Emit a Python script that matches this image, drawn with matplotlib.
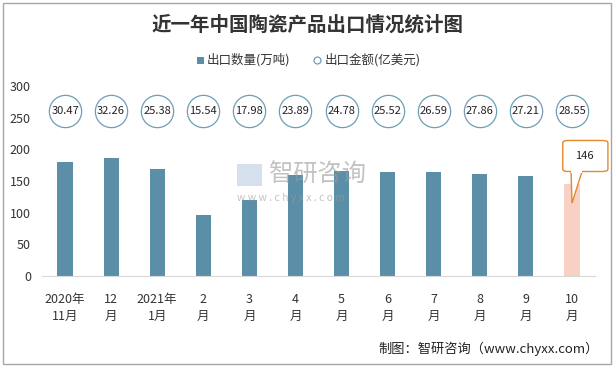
import matplotlib
matplotlib.use("Agg")
import matplotlib.pyplot as plt
from matplotlib.patches import Rectangle, FancyBboxPatch, Polygon
import numpy as np

plt.rcParams["font.family"] = ["Noto Sans CJK SC", "DejaVu Sans"]

# data
months = ["2020年\n11月", "12\n月", "2021年\n1月", "2\n月", "3\n月", "4\n月",
          "5\n月", "6\n月", "7\n月", "8\n月", "9\n月", "10\n月"]
volume = [180, 186, 169, 96, 120, 159, 166, 164, 164, 161, 158, 146]   # 万吨
amount = [30.47, 32.26, 25.38, 15.54, 17.98, 23.89, 24.78, 25.52, 26.59, 27.86, 27.21, 28.55]  # 亿美元

BAR = "#5B8FA7"
LAST = "#F8D0C4"
CIRC = "#6E9DB6"
ORANGE = "#E28A2F"

fig = plt.figure(figsize=(6.15, 3.68), dpi=100)
fig.patches.append(Rectangle((0.005, 0.012), 0.988, 0.98, transform=fig.transFigure,
                             fill=False, edgecolor="#A6A6A6", linewidth=1))

ax = fig.add_axes([0.0683, 0.25, 0.8992, 0.5163])
x = np.arange(len(months))
colors = [BAR] * (len(volume) - 1) + [LAST]
ax.bar(x, volume, width=0.33, color=colors, zorder=2)

# amount shown as circles in a row above the bars
ring_y = 260
ax.scatter(x, [ring_y] * len(amount), s=540, facecolor="white", edgecolor=CIRC,
           linewidth=0.9, zorder=3)
for xi, a in zip(x, amount):
    ax.text(xi, ring_y, f"{a:.2f}", ha="center", va="center", fontsize=8,
            color="#222222", zorder=4)

ax.set_xlim(-0.5, len(months) - 0.5)
ax.set_ylim(0, 300)
ax.set_yticks(range(0, 301, 50))
ax.set_xticks(x)
ax.set_xticklabels(months, fontsize=9, linespacing=1.4)
ax.tick_params(axis="both", length=0, colors="#333333")
ax.tick_params(axis="y", labelsize=9, pad=8)
ax.tick_params(axis="x", pad=12)
for s in ["top", "right", "left"]:
    ax.spines[s].set_visible(False)
ax.spines["bottom"].set_color("#D9D9D9")
ax.set_facecolor("none")

# callout for last bar
last = len(volume) - 1
box = FancyBboxPatch((last - 0.2, 165), 0.98, 49,
                     boxstyle="round,pad=0,rounding_size=0.12",
                     mutation_aspect=30, fc="white", ec=ORANGE, lw=1,
                     clip_on=False, zorder=5)
ax.add_patch(box)
tail = Polygon([(last - 0.02, 165.5), (last, volume[last] - 31), (last + 0.22, 165.5)],
               closed=False, fc="white", ec=ORANGE, lw=1, clip_on=False, zorder=6)
ax.add_patch(tail)
ax.add_patch(Rectangle((last - 0.015, 163), 0.225, 4, fc="white", ec="none",
                       clip_on=False, zorder=6))
ax.text(last + 0.28, 190, str(volume[last]), ha="center", va="center", fontsize=8,
        color="#222222", zorder=7)

# watermark
fig.patches.append(Rectangle((0.386, 0.495), 0.04, 0.058, transform=fig.transFigure,
                             facecolor="#CCD8E8", edgecolor="none", alpha=0.8, zorder=5))
fig.text(0.437, 0.524, "智研咨询", fontsize=17.5, color="#9A9A9A", alpha=0.6,
         ha="left", va="center", zorder=6)
fig.text(0.385, 0.462, "w w w . c h y x x . c o m", fontsize=7.5, color="#9A9A9A",
         alpha=0.6, ha="left", va="center", zorder=6)

fig.text(0.5, 0.932, "近一年中国陶瓷产品出口情况统计图", ha="center", va="center",
         fontsize=14, fontweight="bold", color="#333333")

# legend
fig.patches.append(Rectangle((0.321, 0.827), 0.011, 0.019, transform=fig.transFigure,
                             facecolor=BAR, edgecolor="none"))
fig.text(0.336, 0.837, "出口数量(万吨)", fontsize=9, va="center", color="#333333")
fig.lines.append(plt.Line2D([0.516], [0.837], transform=fig.transFigure, marker="o",
                            markersize=5, mfc="white", mec=CIRC, mew=0.9))
fig.text(0.528, 0.837, "出口金额(亿美元)", fontsize=9, va="center", color="#333333")

fig.text(0.973, 0.052, "制图：智研咨询（www.chyxx.com）", ha="right", va="center",
         fontsize=9.5, color="#222222")

fig.savefig("out.png", dpi=100)
